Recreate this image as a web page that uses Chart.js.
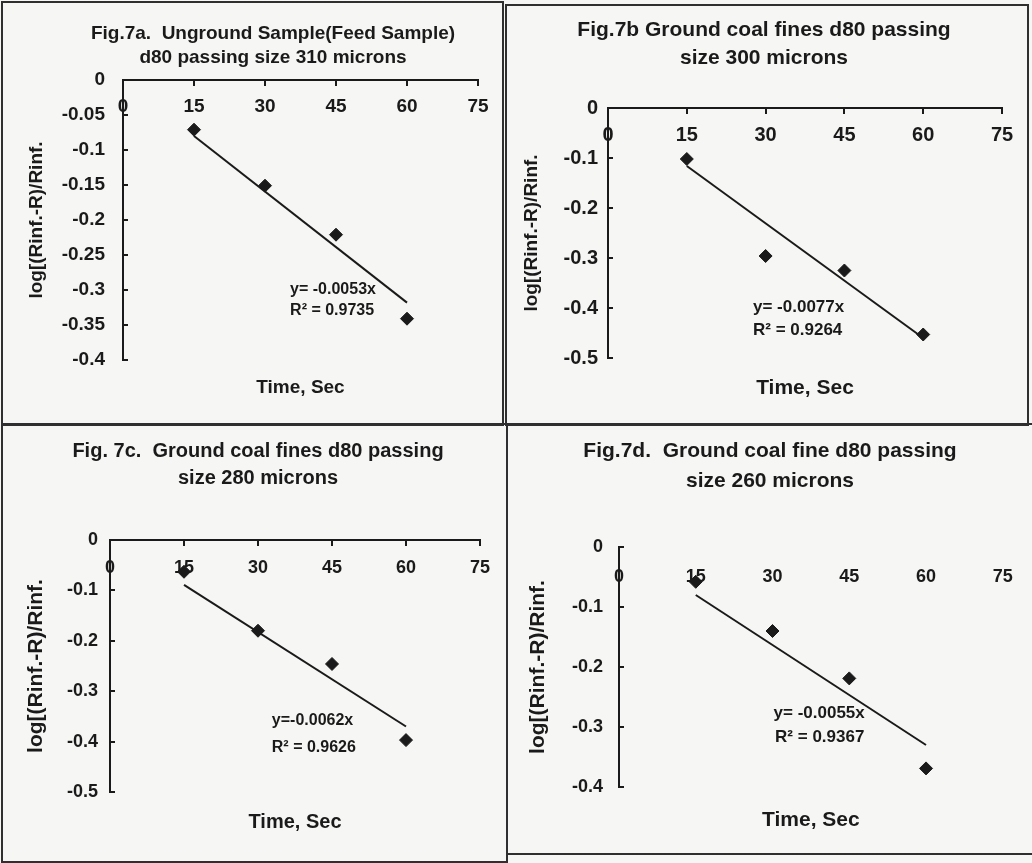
<!DOCTYPE html>
<html>
<head>
<meta charset="utf-8">
<script src="https://cdn.jsdelivr.net/npm/chart.js@4"></script>
<style>
  body { margin: 0; background: #f6f6f4; width: 1032px; height: 863px; position: relative; overflow: hidden; }
  .panel { position: absolute; border: 2px solid #2f2f2f; box-sizing: border-box; }
  canvas { position: absolute; }
</style>
</head>
<body>
<div class="panel" style="left:1px;top:1px;width:503px;height:425px"></div>
<div class="panel" style="left:505px;top:4px;width:524px;height:422px"></div>
<div class="panel" style="left:1px;top:423px;width:507px;height:440px"></div>
<div class="panel" style="left:506px;top:423px;width:530px;height:432px;border-right:none"></div>

<canvas id="fig7a" width="498" height="420" style="left:3px;top:3px"></canvas>
<canvas id="fig7b" width="520" height="417" style="left:507px;top:6px"></canvas>
<canvas id="fig7c" width="503" height="435" style="left:3px;top:425px"></canvas>
<canvas id="fig7d" width="524" height="427" style="left:508px;top:425px"></canvas>

<script>
// flotation time (sec) and log[(Rinf-R)/Rinf]
const times = [15, 30, 45, 60];
const logA = [-0.071, -0.151, -0.221, -0.341];
const logB = [-0.102, -0.296, -0.325, -0.453];
const logC = [-0.063, -0.180, -0.246, -0.397];
const logD = [-0.058, -0.140, -0.219, -0.369];

// trend line ends (at 15 and 60 sec)
const trendX = [15, 60];
const trendA = [-0.080, -0.318];
const trendB = [-0.116, -0.460];
const trendC = [-0.089, -0.370];
const trendD = [-0.080, -0.330];

// tick labels
const xTicks = [0, 15, 30, 45, 60, 75];
const yTicksA = [0, -0.05, -0.1, -0.15, -0.2, -0.25, -0.3, -0.35, -0.4];
const yTicksB = [0, -0.1, -0.2, -0.3, -0.4, -0.5];
const yTicksC = [0, -0.1, -0.2, -0.3, -0.4, -0.5];
const yTicksD = [0, -0.1, -0.2, -0.3, -0.4];

const titleA = ["Fig.7a.  Unground Sample(Feed Sample)", "d80 passing size 310 microns"];
const titleB = ["Fig.7b Ground coal fines d80 passing", "size 300 microns"];
const titleC = ["Fig. 7c.  Ground coal fines d80 passing", "size 280 microns"];
const titleD = ["Fig.7d.  Ground coal fine d80 passing", "size 260 microns"];

const eqA = ["y= -0.0053x", "R\u00b2 = 0.9735"];
const eqB = ["y= -0.0077x", "R\u00b2 = 0.9264"];
const eqC = ["y=-0.0062x", "R\u00b2 = 0.9626"];
const eqD = ["y= -0.0055x", "R\u00b2 = 0.9367"];

const ink = "#1a1a1a";
const family = "'Liberation Sans', Arial, sans-serif";

// figure title + trendline equation
const figText = {
  id: "figText",
  afterDraw(chart, args, o) {
    const ctx = chart.ctx;
    ctx.save();
    ctx.fillStyle = ink;
    ctx.textBaseline = "middle";
    ctx.textAlign = "center";
    ctx.font = `bold ${o.titleSize}px ${family}`;
    o.title.forEach((t, i) => ctx.fillText(t, o.titleX, o.titleY[i]));
    ctx.textAlign = "left";
    ctx.font = `bold ${o.noteSize}px ${family}`;
    const xs = chart.scales.x, ys = chart.scales.y;
    o.note.forEach((t, i) => ctx.fillText(t, xs.getPixelForValue(o.noteAt[i][0]), ys.getPixelForValue(o.noteAt[i][1])));
    ctx.restore();
  }
};

function makeChart(id, c) {
  const canvas = document.getElementById(id);
  const W = canvas.width, H = canvas.height;
  const f = (size) => ({ family: family, size: size, weight: "bold" });
  return new Chart(canvas, {
    type: "scatter",
    data: {
      datasets: [
        {
          data: times.map((t, i) => ({ x: t, y: c.values[i] })),
          pointStyle: "rectRot",
          pointRadius: 6.5,
          pointBackgroundColor: ink,
          pointBorderColor: ink,
          pointBorderWidth: 1,
          showLine: false
        },
        {
          data: trendX.map((t, i) => ({ x: t, y: c.trend[i] })),
          showLine: true,
          pointRadius: 0,
          borderColor: ink,
          borderWidth: 2
        }
      ]
    },
    options: {
      responsive: false,
      animation: false,
      layout: { padding: { left: 0, top: c.area.t, right: W - c.area.r, bottom: 0 } },
      plugins: {
        legend: { display: false },
        tooltip: { enabled: false },
        figText: {
          title: c.title, titleX: c.titleX, titleY: c.titleY, titleSize: c.titleSize,
          note: c.note, noteAt: c.noteAt, noteSize: c.noteSize
        }
      },
      scales: {
        x: {
          type: "linear", min: 0, max: 75, position: "bottom",
          ticks: { display: false },
          grid: { display: false, drawTicks: false },
          border: { display: false },
          title: {
            display: true, text: "Time, Sec", color: ink, font: f(c.axisSize),
            padding: { top: 0, bottom: H - c.xTitleY - c.axisSize * 0.6 }
          },
          afterFit: (s) => { s.height = H - c.area.b; }
        },
        xTop: {
          axis: "x", type: "linear", min: 0, max: 75, position: { y: 0 },
          afterBuildTicks: (s) => { s.ticks = xTicks.map(v => ({ value: v })); },
          ticks: {
            color: ink, font: f(c.tickSize), autoSkip: false, maxRotation: 0,
            padding: c.xLabelGap - (c.xLine ? 5 : 0) - c.tickSize * 0.6
          },
          grid: { drawOnChartArea: false, drawTicks: c.xLine, tickLength: 5, color: ink, lineWidth: 2 },
          border: { display: c.xLine, color: ink, width: 2 }
        },
        y: {
          type: "linear", min: c.yTicks[c.yTicks.length - 1], max: 0, position: "left",
          afterBuildTicks: (s) => { s.ticks = c.yTicks.map(v => ({ value: v })); },
          ticks: { color: ink, font: f(c.tickSize), padding: c.yLabelGap + 5, callback: (v) => String(v) },
          grid: { drawOnChartArea: false, tickLength: -5, color: ink, lineWidth: 2 },
          border: { color: ink, width: 2 },
          title: {
            display: true, text: "log[(Rinf.-R)/Rinf.", color: ink, font: f(c.yTitleSize),
            padding: { top: c.yTitleX - c.yTitleSize * 0.6, bottom: 0 }
          },
          afterFit: (s) => { s.width = c.area.l; }
        }
      }
    },
    plugins: [figText]
  });
}

makeChart("fig7a", {
  values: logA, trend: trendA, yTicks: yTicksA,
  area: { l: 120, t: 77, r: 475, b: 357 },
  title: titleA, titleX: 270, titleY: [31, 55], titleSize: 19,
  note: eqA, noteAt: [[35.3, -0.299], [35.3, -0.330]], noteSize: 16,
  axisSize: 19, yTitleSize: 19, tickSize: 19,
  xTitleY: 385, yTitleX: 34, xLabelGap: 27, yLabelGap: 18, xLine: true
});

makeChart("fig7b", {
  values: logB, trend: trendB, yTicks: yTicksB,
  area: { l: 101, t: 102, r: 495, b: 352 },
  title: titleB, titleX: 257, titleY: [24, 52], titleSize: 21,
  note: eqB, noteAt: [[27.6, -0.398], [27.6, -0.444]], noteSize: 17,
  axisSize: 21, yTitleSize: 19, tickSize: 20,
  xTitleY: 382, yTitleX: 25, xLabelGap: 27, yLabelGap: 10, xLine: true
});

makeChart("fig7c", {
  values: logC, trend: trendC, yTicks: yTicksC,
  area: { l: 107, t: 115, r: 477, b: 367 },
  title: titleC, titleX: 255, titleY: [26, 53], titleSize: 20,
  note: eqC, noteAt: [[32.8, -0.359], [32.8, -0.411]], noteSize: 16,
  axisSize: 20, yTitleSize: 21, tickSize: 18,
  xTitleY: 397, yTitleX: 33, xLabelGap: 28, yLabelGap: 12, xLine: true
});

makeChart("fig7d", {
  values: logD, trend: trendD, yTicks: yTicksD,
  area: { l: 111, t: 122, r: 499, b: 362 },
  title: titleD, titleX: 262, titleY: [26, 56], titleSize: 21,
  note: eqD, noteAt: [[30.2, -0.277], [30.5, -0.318]], noteSize: 17,
  axisSize: 21, yTitleSize: 21, tickSize: 18,
  xTitleY: 395, yTitleX: 30, xLabelGap: 30, yLabelGap: 16, xLine: false
});
</script>
</body>
</html>
